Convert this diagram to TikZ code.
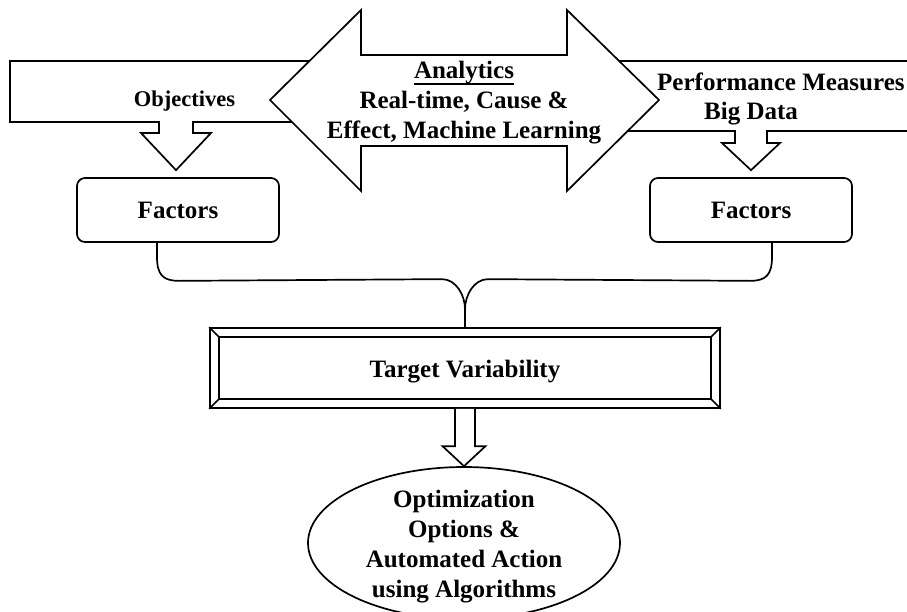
\documentclass[tikz,border=0pt]{standalone}
\usepackage{fontspec}
\newfontfamily\dfont{Liberation Serif}
\usetikzlibrary{calc,shapes.geometric}
\newcommand\ulword[1]{\leavevmode\vtop{\hbox{#1}\kern-0.5pt\hrule height1.5pt}}
\tikzset{
  lbl/.style={font=\dfont\bfseries\fontsize{25}{30}\selectfont, inner sep=0pt, align=center},
  shp/.style={draw, fill=white, line width=1.7pt, line join=miter},
  fbox/.style={shp, rounded corners=8pt, minimum width=202pt, minimum height=64pt, lbl, text height=17pt, text depth=0pt},
  link/.style={draw, line width=1.7pt},
}
\begin{document}
\begin{tikzpicture}[x=1pt,y=-1pt]
\useasboundingbox (0,0) rectangle (907,611);
\clip (0,0) rectangle (907,611);

% factor boxes
\node[fbox] (f1) at (178,210) {Factors};
\node[fbox] (f2) at (751,210) {Factors};

% left banner with down arrow
\draw[shp] (10,61) -- (420,61) -- (420,122) -- (193,122) -- (193,133) -- (211,133)
  -- ($(f1.north)+(-2,-7)$) -- (141,133) -- (159,133) -- (159,122) -- (10,122) -- cycle;

% right banner with down arrow
\draw[shp] (520,61) -- (930,61) -- (930,131) -- (767,131) -- (767,143) -- (780,143)
  -- ($(f2.north)+(0,-7)$) -- (722,143) -- (735,143) -- (735,131) -- (520,131) -- cycle;

% double arrow
\draw[shp] (270,100) -- (361,10) -- (361,55) -- (567,55) -- (567,10) -- (659,100)
  -- (567,191) -- (567,146) -- (361,146) -- (361,191) -- cycle;

% texts of the top row
\node[lbl, anchor=north] (ana) at (464,61) {\ulword{Analytics}\\Real-time, Cause \&\\Effect, Machine Learning};
\node[lbl, anchor=base] (obj) at (184.5,106) {\fontsize{22.5}{26}\selectfont Objectives};
\node[lbl, anchor=base west] (perf) at (657,90) {Performance Measures};
\node[lbl, anchor=base] (big) at (751,119) {Big Data};

% target variability bevel box
\node[shp, minimum width=510pt, minimum height=80pt, lbl, text height=18pt, text depth=0pt] (tv) at (465,368) {Target Variability};
\draw[line width=1.7pt] ($(tv.north west)+(10,10)$) rectangle ($(tv.south east)+(-10,-10)$);
\draw[line width=1.7pt] (tv.north west) -- ++(10,10) (tv.north east) -- ++(-10,10)
  (tv.south west) -- ++(10,-10) (tv.south east) -- ++(-10,-10);

% brace joining the factor boxes
\draw[link] ($(f1.south)+(-21,0)$) -- ++(0,14) .. controls +(0,18) and +(-16,0) .. ($(f1.south)+(1,38)$)
  -- ($(tv.north)+(-23,-48)$) .. controls +(14,0) and +(0,-14) .. ($(tv.north)+(0,-18)$) -- (tv.north);
\draw[link] ($(f2.south)+(21,0)$) -- ++(0,14) .. controls +(0,18) and +(16,0) .. ($(f2.south)+(-1,38)$)
  -- ($(tv.north)+(23,-48)$) .. controls +(-14,0) and +(0,-14) .. ($(tv.north)+(0,-18)$);

% ellipse
\node[shp, ellipse, minimum width=312pt, minimum height=152pt, inner sep=0pt] (opt) at (464,543) {};
\node[lbl, anchor=north] (optt) at (464,490) {Optimization\\Options \&\\Automated Action\\using Algorithms};

% arrow from target box to ellipse
\draw[shp] ($(tv.south)+(-10,0)$) |- ($(opt.north)+(-21.5,-20)$) -- (opt.north)
  -- ($(opt.north)+(21.5,-20)$) -| ($(tv.south)+(10,0)$);
\end{tikzpicture}
\end{document}
